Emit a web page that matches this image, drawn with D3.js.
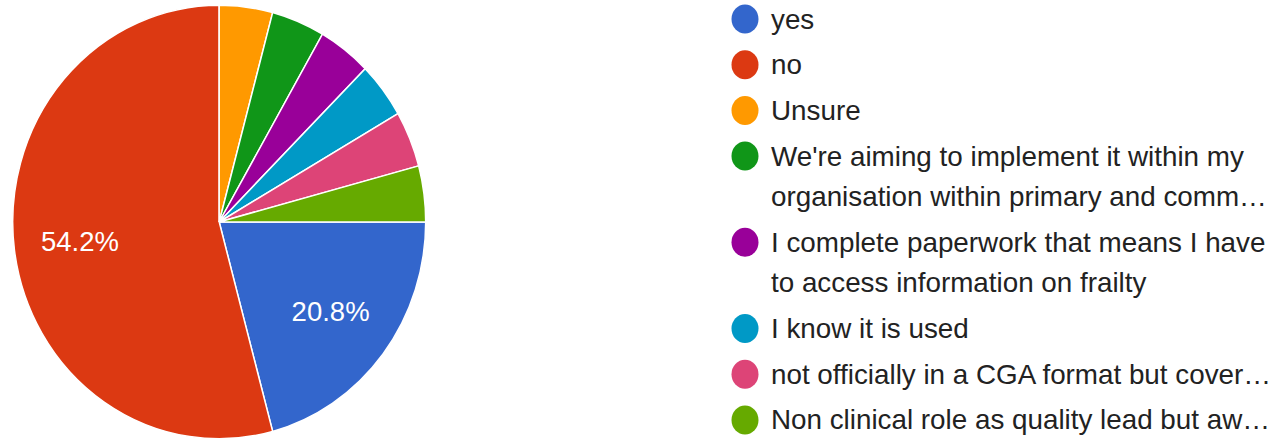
<!DOCTYPE html>
<html>
<head>
<meta charset="utf-8">
<script src="https://cdn.jsdelivr.net/npm/d3@7"></script>
<style>
  html, body { margin: 0; padding: 0; background: #fff; }
  svg { display: block; }
</style>
</head>
<body>
<svg id="chart" width="1274" height="440"></svg>
<script>
// Responses per answer option
const categories = [
  "yes",
  "no",
  "Unsure",
  "We're aiming to implement it within my\norganisation within primary and comm…",
  "I complete paperwork that means I have\nto access information on frailty",
  "I know it is used",
  "not officially in a CGA format but cover…",
  "Non clinical role as quality lead but aw…"
];
const counts = [5, 13, 1, 1, 1, 1, 1, 1];
const colors = ["#3366cc", "#dc3912", "#ff9900", "#109618", "#990099", "#0099c6", "#dd4477", "#66aa00"];

const svg = d3.select("#chart");
const total = d3.sum(counts);
const data = categories.map((c, i) => ({ label: c, value: counts[i], color: colors[i] }));

// Pie geometry
const cx = 219.2, cy = 222, r = 206.5, sy = 1.05;
const font = "Arial, 'Liberation Sans', sans-serif";

const pie = d3.pie()
  .sort(null)
  .value(d => d.value)
  .startAngle(Math.PI / 2)
  .endAngle(Math.PI / 2 + 2 * Math.PI);

const arcs = pie(data);
const arc = d3.arc().innerRadius(0).outerRadius(r);
const labelArc = d3.arc().innerRadius(r * 0.68).outerRadius(r * 0.68);

const g = svg.append("g").attr("transform", `translate(${cx},${cy}) scale(1,${sy})`);
g.selectAll("path")
  .data(arcs)
  .join("path")
  .attr("d", arc)
  .attr("fill", d => d.data.color)
  .attr("stroke", "#fff")
  .attr("stroke-width", 1.5)
  .attr("vector-effect", "non-scaling-stroke");

// Percentage labels for slices large enough to hold them
const fmt = v => (v / total * 100).toFixed(1) + "%";
svg.append("g")
  .selectAll("text")
  .data(arcs.filter(d => d.data.value / total > 0.1))
  .join("text")
  .attr("x", d => cx + labelArc.centroid(d)[0])
  .attr("y", d => cy + labelArc.centroid(d)[1] * sy)
  .attr("text-anchor", "middle")
  .attr("dominant-baseline", "central")
  .attr("fill", "#fff")
  .attr("font-family", font)
  .attr("font-size", 27.5)
  .text(d => fmt(d.data.value));

// Legend
const legendX = 745, textX = 771;
const entryStep = 45.7, lineStep = 40.5;
let y = 19;
const legend = svg.append("g").attr("font-family", font).attr("font-size", 27.8).attr("fill", "#222222");
data.forEach((d, i) => {
  const lines = d.label.split("\n");
  legend.append("ellipse")
    .attr("cx", legendX).attr("cy", y)
    .attr("rx", 13.5).attr("ry", 14.5)
    .attr("fill", d.color);
  lines.forEach((ln, j) => {
    legend.append("text")
      .attr("x", textX)
      .attr("y", y + j * lineStep)
      .attr("dominant-baseline", "central")
      .text(ln);
  });
  y += (lines.length - 1) * lineStep + entryStep;
});
</script>
</body>
</html>
